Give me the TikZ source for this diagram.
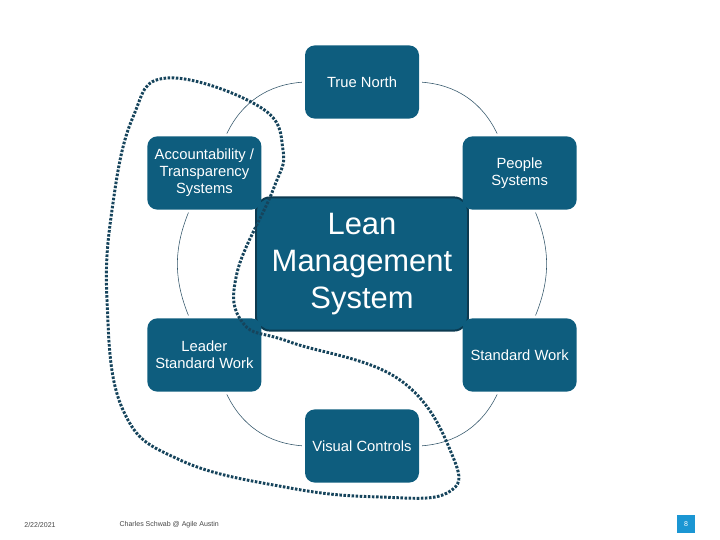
\documentclass[tikz,border=0pt]{standalone}
\usepackage{fontspec}
\setmainfont{Liberation Sans}
\usetikzlibrary{positioning, calc}

\definecolor{leanblue}{RGB}{14,93,126}
\definecolor{leanedge}{RGB}{12,58,80}
\definecolor{dotline}{RGB}{22,68,92}
\definecolor{ringline}{RGB}{50,85,105}
\definecolor{pagebox}{RGB}{27,150,211}
\definecolor{footgray}{RGB}{70,70,70}

\begin{document}
\begin{tikzpicture}[
    stepbox/.style={rectangle, rounded corners=7pt, fill=leanblue, text=white, minimum width=2.85cm, minimum height=1.83cm, align=center, inner sep=2pt, font=\fontsize{10.5}{12.2}\selectfont},
    hubbox/.style={stepbox, draw=leanedge, line width=1.4pt, rounded corners=10pt, minimum width=5.3cm, minimum height=3.33cm, font=\fontsize{22}{26.5}\selectfont},
    ring/.style={ringline, line width=0.4pt, bend left=30, shorten <=2pt, shorten >=2pt},
    sidering/.style={ring, bend left=22},
    loopline/.style={dotline, line width=2.1pt, dash pattern=on 1.8pt off 1.1pt},
    footer/.style={font=\fontsize{5}{6}\selectfont, text=footgray},
]
\useasboundingbox (0,0) rectangle (18,13.5);

% Hub
\node[hubbox] (lean) at (9.05,6.9) {Lean\\Management\\System};

% Ring nodes
\node[stepbox] (north) at ($(lean)+(90:4.55)$) {True North};
\node[stepbox] (people) at ($(lean)+(30:4.55)$) {People\\Systems};
\node[stepbox] (stdwork) at ($(lean)+(-30:4.55)$) {Standard Work};
\node[stepbox] (visual) at ($(lean)+(-90:4.55)$) {Visual Controls};
\node[stepbox] (leader) at ($(lean)+(-150:4.55)$) {Leader\\Standard Work};
\node[stepbox] (account) at ($(lean)+(150:4.55)$) {Accountability /\\Transparency\\Systems};

% Ring arcs
\draw[ring] (north) to (people);
\draw[sidering] (people) to (stdwork);
\draw[ring] (stdwork) to (visual);
\draw[ring] (visual) to (leader);
\draw[sidering] (leader) to (account);
\draw[ring] (account) to (north);

% Dotted loop
\draw[loopline] plot[smooth cycle, tension=0.7] coordinates {
    (4.175,11.55) (6.5,10.825) (7.075,9.75) (6.825,8.75) (5.925,6.675)
    (6.075,5.425) (7.25,4.95) (10.0,4.0) (11.325,2.075) (11.175,1.175)
    (9.5,1.075) (7.25,1.3) (4.5,2.0) (3.075,3.25) (2.675,6.0)
    (2.825,8.425) (3.325,10.575)};

% Footer
\node[footer] (date) at (1.0,0.375) {2/22/2021};
\node[footer, right=1.35cm of date] (author) {Charles Schwab @ Agile Austin};
\node[fill=pagebox, text=white, minimum size=0.45cm, inner sep=0pt, font=\fontsize{5}{6}\selectfont] (page) at (17.15,0.4) {8};

\end{tikzpicture}
\end{document}
